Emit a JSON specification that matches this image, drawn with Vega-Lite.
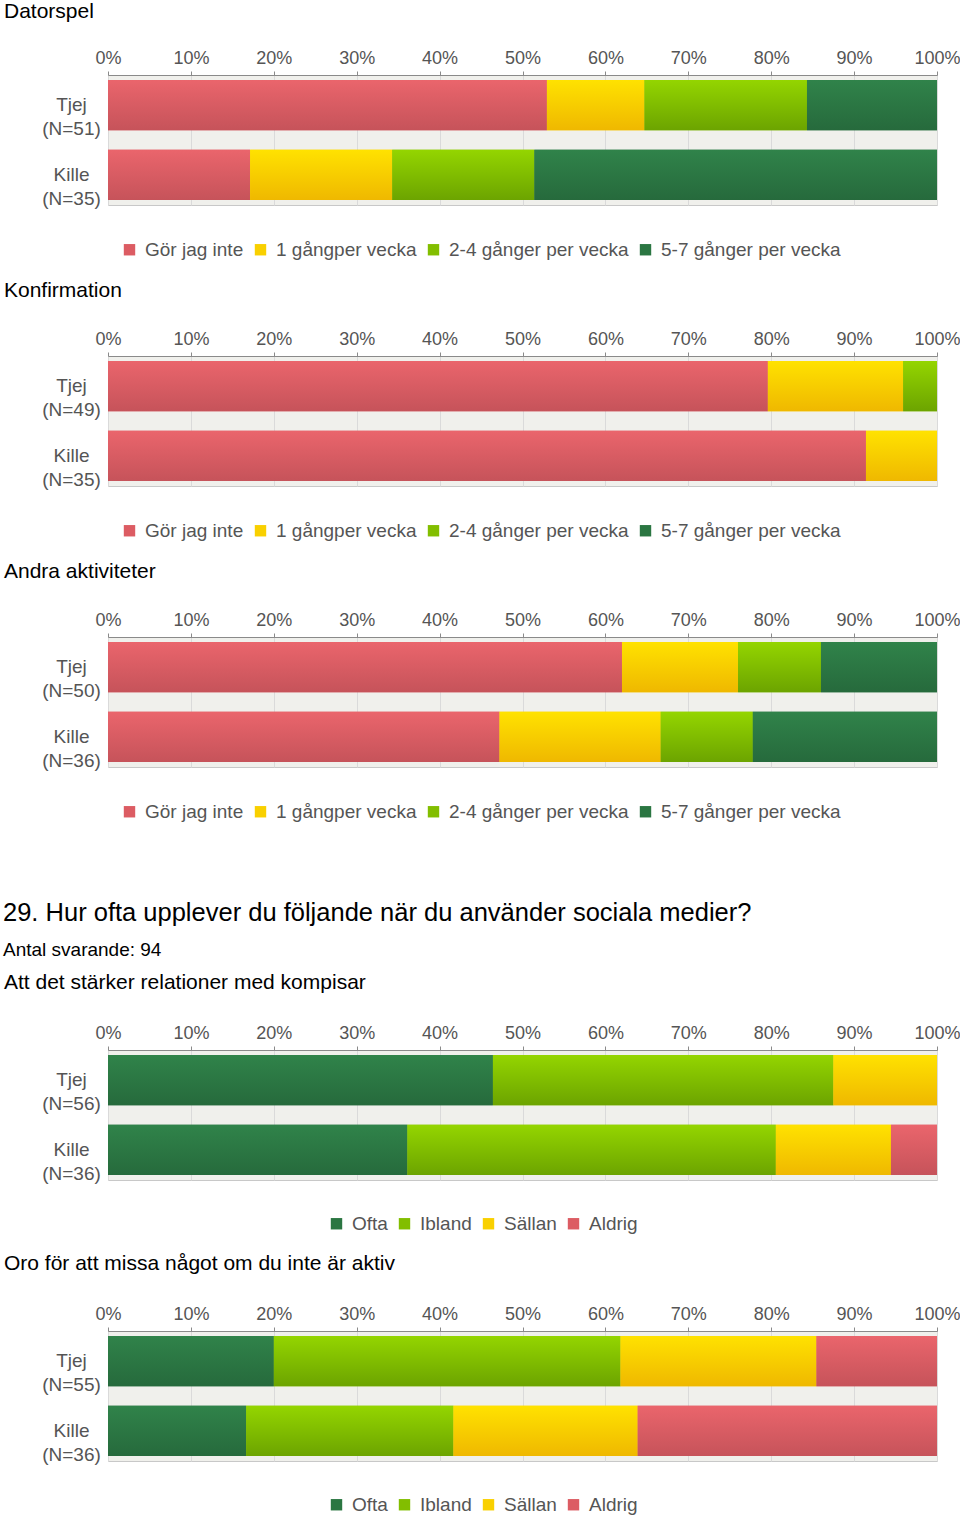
{
  "$schema": "https://vega.github.io/schema/vega-lite/v6.json",
  "padding": {"left": 3, "top": 0, "right": 0, "bottom": 0},
  "background": "white",
  "datasets": {
    "svar": [
      {"q": "Datorspel", "g": "Tjej (N=51)", "svar": "Gör jag inte", "n": 27},
      {"q": "Datorspel", "g": "Tjej (N=51)", "svar": "1 gångper vecka", "n": 6},
      {"q": "Datorspel", "g": "Tjej (N=51)", "svar": "2-4 gånger per vecka", "n": 10},
      {"q": "Datorspel", "g": "Tjej (N=51)", "svar": "5-7 gånger per vecka", "n": 8},
      {"q": "Datorspel", "g": "Kille (N=35)", "svar": "Gör jag inte", "n": 6},
      {"q": "Datorspel", "g": "Kille (N=35)", "svar": "1 gångper vecka", "n": 6},
      {"q": "Datorspel", "g": "Kille (N=35)", "svar": "2-4 gånger per vecka", "n": 6},
      {"q": "Datorspel", "g": "Kille (N=35)", "svar": "5-7 gånger per vecka", "n": 17},
      {"q": "Konfirmation", "g": "Tjej (N=49)", "svar": "Gör jag inte", "n": 39},
      {"q": "Konfirmation", "g": "Tjej (N=49)", "svar": "1 gångper vecka", "n": 8},
      {"q": "Konfirmation", "g": "Tjej (N=49)", "svar": "2-4 gånger per vecka", "n": 2},
      {"q": "Konfirmation", "g": "Kille (N=35)", "svar": "Gör jag inte", "n": 32},
      {"q": "Konfirmation", "g": "Kille (N=35)", "svar": "1 gångper vecka", "n": 3},
      {"q": "Andra aktiviteter", "g": "Tjej (N=50)", "svar": "Gör jag inte", "n": 31},
      {"q": "Andra aktiviteter", "g": "Tjej (N=50)", "svar": "1 gångper vecka", "n": 7},
      {"q": "Andra aktiviteter", "g": "Tjej (N=50)", "svar": "2-4 gånger per vecka", "n": 5},
      {"q": "Andra aktiviteter", "g": "Tjej (N=50)", "svar": "5-7 gånger per vecka", "n": 7},
      {"q": "Andra aktiviteter", "g": "Kille (N=36)", "svar": "Gör jag inte", "n": 17},
      {"q": "Andra aktiviteter", "g": "Kille (N=36)", "svar": "1 gångper vecka", "n": 7},
      {"q": "Andra aktiviteter", "g": "Kille (N=36)", "svar": "2-4 gånger per vecka", "n": 4},
      {"q": "Andra aktiviteter", "g": "Kille (N=36)", "svar": "5-7 gånger per vecka", "n": 8},
      {"q": "Att det stärker relationer med kompisar", "g": "Tjej (N=56)", "svar": "Ofta", "n": 26},
      {"q": "Att det stärker relationer med kompisar", "g": "Tjej (N=56)", "svar": "Ibland", "n": 23},
      {"q": "Att det stärker relationer med kompisar", "g": "Tjej (N=56)", "svar": "Sällan", "n": 7},
      {"q": "Att det stärker relationer med kompisar", "g": "Kille (N=36)", "svar": "Ofta", "n": 13},
      {"q": "Att det stärker relationer med kompisar", "g": "Kille (N=36)", "svar": "Ibland", "n": 16},
      {"q": "Att det stärker relationer med kompisar", "g": "Kille (N=36)", "svar": "Sällan", "n": 5},
      {"q": "Att det stärker relationer med kompisar", "g": "Kille (N=36)", "svar": "Aldrig", "n": 2},
      {"q": "Oro för att missa något om du inte är aktiv", "g": "Tjej (N=55)", "svar": "Ofta", "n": 11},
      {"q": "Oro för att missa något om du inte är aktiv", "g": "Tjej (N=55)", "svar": "Ibland", "n": 23},
      {"q": "Oro för att missa något om du inte är aktiv", "g": "Tjej (N=55)", "svar": "Sällan", "n": 13},
      {"q": "Oro för att missa något om du inte är aktiv", "g": "Tjej (N=55)", "svar": "Aldrig", "n": 8},
      {"q": "Oro för att missa något om du inte är aktiv", "g": "Kille (N=36)", "svar": "Ofta", "n": 6},
      {"q": "Oro för att missa något om du inte är aktiv", "g": "Kille (N=36)", "svar": "Ibland", "n": 9},
      {"q": "Oro för att missa något om du inte är aktiv", "g": "Kille (N=36)", "svar": "Sällan", "n": 8},
      {"q": "Oro för att missa något om du inte är aktiv", "g": "Kille (N=36)", "svar": "Aldrig", "n": 13}
    ]
  },
  "data": {"name": "svar"},
  "transform": [
    {"calculate": "indexof(['Gör jag inte','1 gångper vecka','2-4 gånger per vecka','5-7 gånger per vecka','Ofta','Ibland','Sällan','Aldrig'], datum.svar)", "as": "o"}
  ],
  "resolve": {"scale": {"color": "independent"}, "legend": {"color": "independent"}},
  "spacing": 78,
  "vconcat": [
    {
      "spacing": 18,
      "resolve": {"scale": {"color": "independent"}, "legend": {"color": "independent"}},
      "vconcat": [
        {
          "title": {"text": "Datorspel", "offset": 27},
          "width": 829, "height": 130,
          "transform": [{"filter": "datum.q === 'Datorspel'"}],
          "layer": [
            {"mark": {"type": "bar"},
             "encoding": {
               "y": {"field": "g", "type": "nominal", "sort": null, "scale": {"paddingInner": 0.28, "paddingOuter": 0.07}},
               "x": {"field": "n", "type": "quantitative", "stack": "normalize", "scale": {"domain": [0, 1]}, "axis": {"values": [0, 0.1, 0.2, 0.3, 0.4, 0.5, 0.6, 0.7, 0.8, 0.9, 1]}},
               "color": {"field": "svar", "type": "nominal",
                 "scale": {"domain": ["Gör jag inte", "1 gångper vecka", "2-4 gånger per vecka", "5-7 gånger per vecka"], "range": ["#dc5c63", "#f9d000", "#82be00", "#2b7642"]},
                 "legend": {"legendX": 12, "legendY": 165}},
               "order": {"field": "o", "type": "quantitative"}
             }},
            {"mark": {"type": "bar"},
             "encoding": {
               "y": {"field": "g", "type": "nominal", "sort": null},
               "x": {"field": "n", "type": "quantitative", "stack": "normalize"},
               "detail": {"field": "svar"},
               "order": {"field": "o", "type": "quantitative"},
               "fill": {"condition": [
                 {"test": "datum.svar === 'Gör jag inte' || datum.svar === 'Aldrig'", "value": {"gradient": "linear", "x1": 0, "y1": 0, "x2": 0, "y2": 1, "stops": [{"offset": 0, "color": "#ea656c"}, {"offset": 1, "color": "#c6535a"}]}},
                 {"test": "datum.svar === '1 gångper vecka' || datum.svar === 'Sällan'", "value": {"gradient": "linear", "x1": 0, "y1": 0, "x2": 0, "y2": 1, "stops": [{"offset": 0, "color": "#ffe200"}, {"offset": 1, "color": "#efb800"}]}},
                 {"test": "datum.svar === '2-4 gånger per vecka' || datum.svar === 'Ibland'", "value": {"gradient": "linear", "x1": 0, "y1": 0, "x2": 0, "y2": 1, "stops": [{"offset": 0, "color": "#94d500"}, {"offset": 1, "color": "#6ca400"}]}}
               ], "value": {"gradient": "linear", "x1": 0, "y1": 0, "x2": 0, "y2": 1, "stops": [{"offset": 0, "color": "#30834a"}, {"offset": 1, "color": "#266a3c"}]}}
             }}
          ]
        },
        {
          "title": {"text": "Konfirmation"},
          "width": 829, "height": 130,
          "transform": [{"filter": "datum.q === 'Konfirmation'"}],
          "layer": [
            {"mark": {"type": "bar"},
             "encoding": {
               "y": {"field": "g", "type": "nominal", "sort": null, "scale": {"paddingInner": 0.28, "paddingOuter": 0.07}},
               "x": {"field": "n", "type": "quantitative", "stack": "normalize", "scale": {"domain": [0, 1]}, "axis": {"values": [0, 0.1, 0.2, 0.3, 0.4, 0.5, 0.6, 0.7, 0.8, 0.9, 1]}},
               "color": {"field": "svar", "type": "nominal",
                 "scale": {"domain": ["Gör jag inte", "1 gångper vecka", "2-4 gånger per vecka", "5-7 gånger per vecka"], "range": ["#dc5c63", "#f9d000", "#82be00", "#2b7642"]},
                 "legend": {"legendX": 12, "legendY": 165}},
               "order": {"field": "o", "type": "quantitative"}
             }},
            {"mark": {"type": "bar"},
             "encoding": {
               "y": {"field": "g", "type": "nominal", "sort": null},
               "x": {"field": "n", "type": "quantitative", "stack": "normalize"},
               "detail": {"field": "svar"},
               "order": {"field": "o", "type": "quantitative"},
               "fill": {"condition": [
                 {"test": "datum.svar === 'Gör jag inte' || datum.svar === 'Aldrig'", "value": {"gradient": "linear", "x1": 0, "y1": 0, "x2": 0, "y2": 1, "stops": [{"offset": 0, "color": "#ea656c"}, {"offset": 1, "color": "#c6535a"}]}},
                 {"test": "datum.svar === '1 gångper vecka' || datum.svar === 'Sällan'", "value": {"gradient": "linear", "x1": 0, "y1": 0, "x2": 0, "y2": 1, "stops": [{"offset": 0, "color": "#ffe200"}, {"offset": 1, "color": "#efb800"}]}},
                 {"test": "datum.svar === '2-4 gånger per vecka' || datum.svar === 'Ibland'", "value": {"gradient": "linear", "x1": 0, "y1": 0, "x2": 0, "y2": 1, "stops": [{"offset": 0, "color": "#94d500"}, {"offset": 1, "color": "#6ca400"}]}}
               ], "value": {"gradient": "linear", "x1": 0, "y1": 0, "x2": 0, "y2": 1, "stops": [{"offset": 0, "color": "#30834a"}, {"offset": 1, "color": "#266a3c"}]}}
             }}
          ]
        },
        {
          "title": {"text": "Andra aktiviteter"},
          "width": 829, "height": 130,
          "transform": [{"filter": "datum.q === 'Andra aktiviteter'"}],
          "layer": [
            {"mark": {"type": "bar"},
             "encoding": {
               "y": {"field": "g", "type": "nominal", "sort": null, "scale": {"paddingInner": 0.28, "paddingOuter": 0.07}},
               "x": {"field": "n", "type": "quantitative", "stack": "normalize", "scale": {"domain": [0, 1]}, "axis": {"values": [0, 0.1, 0.2, 0.3, 0.4, 0.5, 0.6, 0.7, 0.8, 0.9, 1]}},
               "color": {"field": "svar", "type": "nominal",
                 "scale": {"domain": ["Gör jag inte", "1 gångper vecka", "2-4 gånger per vecka", "5-7 gånger per vecka"], "range": ["#dc5c63", "#f9d000", "#82be00", "#2b7642"]},
                 "legend": {"legendX": 12, "legendY": 165}},
               "order": {"field": "o", "type": "quantitative"}
             }},
            {"mark": {"type": "bar"},
             "encoding": {
               "y": {"field": "g", "type": "nominal", "sort": null},
               "x": {"field": "n", "type": "quantitative", "stack": "normalize"},
               "detail": {"field": "svar"},
               "order": {"field": "o", "type": "quantitative"},
               "fill": {"condition": [
                 {"test": "datum.svar === 'Gör jag inte' || datum.svar === 'Aldrig'", "value": {"gradient": "linear", "x1": 0, "y1": 0, "x2": 0, "y2": 1, "stops": [{"offset": 0, "color": "#ea656c"}, {"offset": 1, "color": "#c6535a"}]}},
                 {"test": "datum.svar === '1 gångper vecka' || datum.svar === 'Sällan'", "value": {"gradient": "linear", "x1": 0, "y1": 0, "x2": 0, "y2": 1, "stops": [{"offset": 0, "color": "#ffe200"}, {"offset": 1, "color": "#efb800"}]}},
                 {"test": "datum.svar === '2-4 gånger per vecka' || datum.svar === 'Ibland'", "value": {"gradient": "linear", "x1": 0, "y1": 0, "x2": 0, "y2": 1, "stops": [{"offset": 0, "color": "#94d500"}, {"offset": 1, "color": "#6ca400"}]}}
               ], "value": {"gradient": "linear", "x1": 0, "y1": 0, "x2": 0, "y2": 1, "stops": [{"offset": 0, "color": "#30834a"}, {"offset": 1, "color": "#266a3c"}]}}
             }}
          ]
        }
      ]
    },
    {
      "spacing": 17,
      "title": {"text": "29. Hur ofta upplever du följande när du använder sociala medier?", "subtitle": "Antal svarande: 94", "fontSize": 25.5, "subtitleFontSize": 19, "subtitleColor": "#000", "subtitleFont": "Liberation Sans", "subtitlePadding": 14, "dx": -105, "offset": 12},
      "resolve": {"scale": {"color": "independent"}, "legend": {"color": "independent"}},
      "vconcat": [
        {
          "title": {"text": "Att det stärker relationer med kompisar", "offset": 31},
          "width": 829, "height": 130,
          "transform": [{"filter": "datum.q === 'Att det stärker relationer med kompisar'"}],
          "layer": [
            {"mark": {"type": "bar"},
             "encoding": {
               "y": {"field": "g", "type": "nominal", "sort": null, "scale": {"paddingInner": 0.28, "paddingOuter": 0.07}},
               "x": {"field": "n", "type": "quantitative", "stack": "normalize", "scale": {"domain": [0, 1]}, "axis": {"values": [0, 0.1, 0.2, 0.3, 0.4, 0.5, 0.6, 0.7, 0.8, 0.9, 1]}},
               "color": {"field": "svar", "type": "nominal",
                 "scale": {"domain": ["Ofta", "Ibland", "Sällan", "Aldrig"], "range": ["#2b7642", "#82be00", "#f9d000", "#dc5c63"]},
                 "legend": {"legendX": 219, "legendY": 164}},
               "order": {"field": "o", "type": "quantitative"}
             }},
            {"mark": {"type": "bar"},
             "encoding": {
               "y": {"field": "g", "type": "nominal", "sort": null},
               "x": {"field": "n", "type": "quantitative", "stack": "normalize"},
               "detail": {"field": "svar"},
               "order": {"field": "o", "type": "quantitative"},
               "fill": {"condition": [
                 {"test": "datum.svar === 'Gör jag inte' || datum.svar === 'Aldrig'", "value": {"gradient": "linear", "x1": 0, "y1": 0, "x2": 0, "y2": 1, "stops": [{"offset": 0, "color": "#ea656c"}, {"offset": 1, "color": "#c6535a"}]}},
                 {"test": "datum.svar === '1 gångper vecka' || datum.svar === 'Sällan'", "value": {"gradient": "linear", "x1": 0, "y1": 0, "x2": 0, "y2": 1, "stops": [{"offset": 0, "color": "#ffe200"}, {"offset": 1, "color": "#efb800"}]}},
                 {"test": "datum.svar === '2-4 gånger per vecka' || datum.svar === 'Ibland'", "value": {"gradient": "linear", "x1": 0, "y1": 0, "x2": 0, "y2": 1, "stops": [{"offset": 0, "color": "#94d500"}, {"offset": 1, "color": "#6ca400"}]}}
               ], "value": {"gradient": "linear", "x1": 0, "y1": 0, "x2": 0, "y2": 1, "stops": [{"offset": 0, "color": "#30834a"}, {"offset": 1, "color": "#266a3c"}]}}
             }}
          ]
        },
        {
          "title": {"text": "Oro för att missa något om du inte är aktiv", "offset": 31},
          "width": 829, "height": 130,
          "transform": [{"filter": "datum.q === 'Oro för att missa något om du inte är aktiv'"}],
          "layer": [
            {"mark": {"type": "bar"},
             "encoding": {
               "y": {"field": "g", "type": "nominal", "sort": null, "scale": {"paddingInner": 0.28, "paddingOuter": 0.07}},
               "x": {"field": "n", "type": "quantitative", "stack": "normalize", "scale": {"domain": [0, 1]}, "axis": {"values": [0, 0.1, 0.2, 0.3, 0.4, 0.5, 0.6, 0.7, 0.8, 0.9, 1]}},
               "color": {"field": "svar", "type": "nominal",
                 "scale": {"domain": ["Ofta", "Ibland", "Sällan", "Aldrig"], "range": ["#2b7642", "#82be00", "#f9d000", "#dc5c63"]},
                 "legend": {"legendX": 219, "legendY": 164}},
               "order": {"field": "o", "type": "quantitative"}
             }},
            {"mark": {"type": "bar"},
             "encoding": {
               "y": {"field": "g", "type": "nominal", "sort": null},
               "x": {"field": "n", "type": "quantitative", "stack": "normalize"},
               "detail": {"field": "svar"},
               "order": {"field": "o", "type": "quantitative"},
               "fill": {"condition": [
                 {"test": "datum.svar === 'Gör jag inte' || datum.svar === 'Aldrig'", "value": {"gradient": "linear", "x1": 0, "y1": 0, "x2": 0, "y2": 1, "stops": [{"offset": 0, "color": "#ea656c"}, {"offset": 1, "color": "#c6535a"}]}},
                 {"test": "datum.svar === '1 gångper vecka' || datum.svar === 'Sällan'", "value": {"gradient": "linear", "x1": 0, "y1": 0, "x2": 0, "y2": 1, "stops": [{"offset": 0, "color": "#ffe200"}, {"offset": 1, "color": "#efb800"}]}},
                 {"test": "datum.svar === '2-4 gånger per vecka' || datum.svar === 'Ibland'", "value": {"gradient": "linear", "x1": 0, "y1": 0, "x2": 0, "y2": 1, "stops": [{"offset": 0, "color": "#94d500"}, {"offset": 1, "color": "#6ca400"}]}}
               ], "value": {"gradient": "linear", "x1": 0, "y1": 0, "x2": 0, "y2": 1, "stops": [{"offset": 0, "color": "#30834a"}, {"offset": 1, "color": "#266a3c"}]}}
             }}
          ]
        }
      ]
    }
  ],
  "config": {
    "font": "Liberation Sans",
    "view": {"fill": "#f0f0ec", "stroke": "#c8c8c8", "strokeWidth": 1},
    "bar": {"stroke": null},
    "title": {"anchor": "start", "frame": "group", "dx": -104, "fontSize": 21, "font": "Liberation Sans", "fontWeight": "normal", "color": "#000000", "offset": 29},
    "axisX": {"orient": "top", "format": ".0%", "title": null, "grid": true, "gridColor": "#dadada", "domainColor": "#8a8a8a", "tickColor": "#8a8a8a", "tickSize": 4, "labelColor": "#555555", "labelFontSize": 18, "labelPadding": 4, "labelFlush": false},
    "axisY": {"title": null, "ticks": false, "tickSize": 0, "domain": false, "grid": false, "labelAlign": "center", "labelPadding": 37, "labelBaseline": "middle", "labelExpr": "split(datum.label, ' ')", "labelLineHeight": 24, "labelFontSize": 19, "labelColor": "#555555"},
    "legend": {"orient": "none", "direction": "horizontal", "columns": 4, "title": null, "symbolType": "square", "symbolSize": 130, "symbolStrokeWidth": 0, "labelFontSize": 19, "labelLimit": 0, "labelColor": "#555555", "columnPadding": 7, "labelOffset": 6}
  }
}
